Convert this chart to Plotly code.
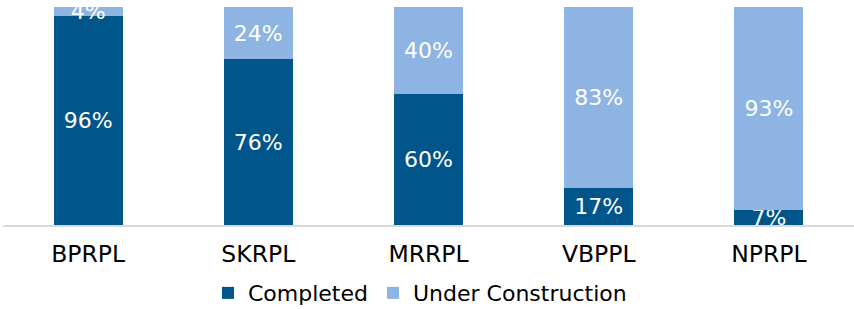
import plotly.graph_objects as go

categories = ["BPRPL", "SKRPL", "MRRPL", "VBPPL", "NPRPL"]
completed = [96, 76, 60, 17, 7]
under_construction = [4, 24, 40, 83, 93]

dark = "#00558A"
light = "#8EB4E3"
font_family = "DejaVu Sans, sans-serif"

fig = go.Figure()
fig.add_trace(go.Bar(
    x=categories, y=completed, name="Completed",
    marker=dict(color=dark, line=dict(width=0)),
    text=[f"{v}%" for v in completed], textposition="inside",
    insidetextanchor="middle", textfont=dict(color="white", size=22, family=font_family),
    cliponaxis=True,
))
fig.add_trace(go.Bar(
    x=categories, y=under_construction, name="Under Construction",
    marker=dict(color=light, line=dict(width=0)),
    text=[f"{v}%" for v in under_construction], textposition="inside",
    insidetextanchor="middle", textfont=dict(color="white", size=22, family=font_family),
    cliponaxis=True,
))

fig.update_layout(
    barmode="stack",
    bargap=0.595,
    width=854, height=330,
    margin=dict(l=3, r=0, t=7, b=105),
    paper_bgcolor="white", plot_bgcolor="white",
    font=dict(family=font_family, size=22, color="black"),
    uniformtext=dict(minsize=22, mode="show"),
    showlegend=True,
    legend=dict(orientation="h", x=0.49, xanchor="center", y=-0.216, yanchor="top",
                font=dict(size=22, color="black"), traceorder="normal",
                itemwidth=30),
    xaxis=dict(showline=True, linecolor="#D9D9D9", linewidth=2, ticks="",
               ticklabelstandoff=7, automargin=False,
               tickfont=dict(size=23.5, color="black")),
    yaxis=dict(range=[0, 100], visible=False, showgrid=False),
)

fig.write_html(
    "out.html",
    config={"displayModeBar": False},
    post_script="document.body.style.margin='0';document.body.style.overflow='hidden';document.documentElement.style.overflow='hidden';",
)
